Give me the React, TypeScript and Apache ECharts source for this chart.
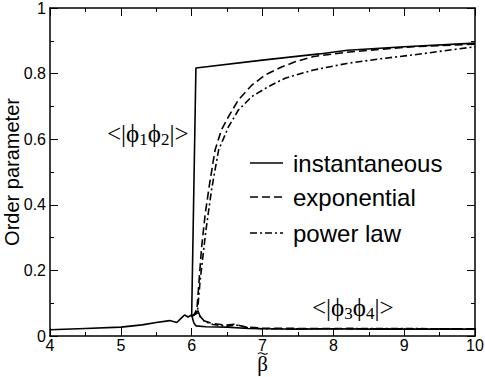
import React, { useEffect, useRef } from "react";
import * as echarts from "echarts";

// Shared pre-transition branch (beta, value)
const lowShared: [number, number][] = [
  [4.0, 0.019], [4.5, 0.023], [5.0, 0.027], [5.3, 0.034], [5.5, 0.041],
  [5.69, 0.047], [5.79, 0.041], [5.86, 0.056], [5.9, 0.064], [5.95, 0.058], [6.0, 0.064],
];

// instantaneous
const instUpper: [number, number][] = [
  [6.0, 0.064], [6.06, 0.817], [7.0, 0.841], [7.8, 0.86], [8.2, 0.871], [9.0, 0.882], [10.0, 0.893],
];
const instLower: [number, number][] = [
  [6.0, 0.064], [6.03, 0.04], [6.06, 0.031], [6.2, 0.028], [6.5, 0.027], [6.8, 0.023],
  [7.0, 0.022], [7.5, 0.021], [8.0, 0.022], [8.5, 0.021], [9.0, 0.021], [9.5, 0.021], [10.0, 0.021],
];

// exponential
const expUpper: [number, number][] = [
  [6.0, 0.06], [6.07, 0.07], [6.14, 0.27], [6.19, 0.37], [6.25, 0.46], [6.33, 0.567],
  [6.42, 0.628], [6.52, 0.669], [6.66, 0.72], [6.85, 0.765], [7.04, 0.796], [7.27, 0.82],
  [7.46, 0.836], [7.72, 0.852], [8.19, 0.865], [8.66, 0.874], [9.13, 0.882], [10.0, 0.89],
];
const expLower: [number, number][] = [
  [6.0, 0.06], [6.04, 0.065], [6.07, 0.084], [6.1, 0.07], [6.14, 0.049], [6.28, 0.039],
  [6.47, 0.033], [6.6, 0.036], [6.75, 0.028], [7.0, 0.024], [7.5, 0.023], [8.0, 0.023],
  [8.5, 0.022], [9.0, 0.022], [9.5, 0.022], [10.0, 0.022],
];

// power law
const powUpper: [number, number][] = [
  [6.0, 0.06], [6.08, 0.07], [6.12, 0.17], [6.2, 0.32], [6.28, 0.445], [6.38, 0.567],
  [6.52, 0.638], [6.66, 0.689], [6.85, 0.73], [7.08, 0.76], [7.32, 0.786], [7.46, 0.795],
  [7.72, 0.811], [8.19, 0.831], [8.66, 0.845], [9.13, 0.857], [10.0, 0.882],
];
const powLower: [number, number][] = [
  [6.0, 0.06], [6.05, 0.07], [6.08, 0.08], [6.12, 0.06], [6.18, 0.045], [6.3, 0.035],
  [6.5, 0.03], [6.62, 0.034], [6.8, 0.025], [7.0, 0.022], [7.5, 0.022], [8.0, 0.022],
  [8.5, 0.023], [9.0, 0.023], [9.5, 0.022], [10.0, 0.022],
];

const legendNames = ["instantaneous", "exponential", "power law"];
const yTicks = { min: 0, max: 1, interval: 0.2 };
const xTicks = { min: 4, max: 10, interval: 1 };

const SANS = "'Liberation Sans', Arial, sans-serif";
const SERIF = "'Liberation Serif', 'DejaVu Serif', serif";

const DASH = [8, 4];
const DASH_DOT = [7, 3, 2, 3];
const styles = [null, DASH, DASH_DOT];

export default function App() {
  const ref = useRef<HTMLDivElement>(null);
  useEffect(() => {
    if (!ref.current) return;
    const chart = echarts.init(ref.current, undefined, { renderer: "svg" });
    const axisCommon = {
      axisLine: { show: true, onZero: false, lineStyle: { color: "#000", width: 1.5 } },
      axisTick: { show: true, inside: true, length: 8, lineStyle: { color: "#000", width: 1 } },
      minorTick: { show: true, splitNumber: 2, length: 4, lineStyle: { color: "#000", width: 1 } },
      splitLine: { show: false },
      minorSplitLine: { show: false },
    };
    const lineSeries = (name: string, data: [number, number][], type: any) => ({
      name,
      type: "line",
      data,
      showSymbol: false,
      symbol: "none",
      lineStyle: { color: "#000", width: 1.6, type },
      itemStyle: { color: "#000" },
      z: 3,
    });

    const legendRowsY = [163, 197, 233];
    const legendGraphics: any[] = [];
    legendNames.forEach((n, i) => {
      legendGraphics.push({
        type: "line",
        shape: { x1: 250, y1: legendRowsY[i], x2: 283, y2: legendRowsY[i] },
        style: { stroke: "#000", lineWidth: 1.6, lineDash: styles[i] || undefined },
      });
      legendGraphics.push({
        type: "text",
        x: 293,
        y: legendRowsY[i],
        style: {
          text: n,
          font: `24px ${SANS}`,
          fill: "#000",
          verticalAlign: "middle",
        },
      });
    });

    const phiRich = {
      m: { fontFamily: SERIF, fontSize: 25, lineHeight: 28, verticalAlign: "middle", color: "#000", fill: "#000" },
      s: { fontFamily: SERIF, fontSize: 17, lineHeight: 28, verticalAlign: "bottom", color: "#000", fill: "#000" },
    };

    chart.setOption({
      animation: false,
      backgroundColor: "#fff",
      grid: { left: 50, right: 10, top: 8, bottom: 41, containLabel: false, outerBoundsMode: "none" },
      xAxis: [
        {
          type: "value",
          position: "bottom",
          ...xTicks,
          ...axisCommon,
          axisLabel: { color: "#000", fontFamily: SANS, fontSize: 16, lineHeight: 10, margin: 4 },
          name: "β",
          nameLocation: "middle",
          nameGap: 18,
          nameMoveOverlap: false,
          nameTextStyle: { color: "#000", fontFamily: SERIF, fontSize: 21, lineHeight: 20 },
        },
        {
          type: "value",
          position: "top",
          ...xTicks,
          ...axisCommon,
          axisLabel: { show: false },
        },
      ],
      yAxis: [
        {
          type: "value",
          position: "left",
          ...yTicks,
          ...axisCommon,
          axisLabel: { color: "#000", fontFamily: SANS, fontSize: 16, margin: 4 },
          name: "Order parameter",
          nameLocation: "middle",
          nameGap: 28,
          nameMoveOverlap: false,
          nameTextStyle: { color: "#000", fontFamily: SANS, fontSize: 20 },
        },
        {
          type: "value",
          position: "right",
          ...yTicks,
          ...axisCommon,
          axisLabel: { show: false },
        },
      ],
      series: [
        lineSeries(legendNames[0], lowShared, "solid"),
        lineSeries(legendNames[0], instUpper, "solid"),
        lineSeries(legendNames[0], instLower, "solid"),
        lineSeries(legendNames[1], expUpper, DASH),
        lineSeries(legendNames[1], expLower, DASH),
        lineSeries(legendNames[2], powUpper, DASH_DOT),
        lineSeries(legendNames[2], powLower, DASH_DOT),
      ],
      graphic: [
        ...legendGraphics,
        // tilde accent over the x-axis symbol
        {
          type: "bezierCurve",
          shape: { x1: 258, y1: 354, x2: 267.5, y2: 353, cpx1: 261, cpy1: 349.5, cpx2: 264.5, cpy2: 357.5 },
          style: { stroke: "#000", lineWidth: 1.1, fill: null },
        },
        {
          type: "text",
          left: 107,
          top: 121,
          style: {
            text: "{m|<|ϕ}{s|1}{m|ϕ}{s|2}{m||>}",
            font: `24px ${SERIF}`,
            fill: "#000",
            rich: phiRich,
          },
        },
        {
          type: "text",
          left: 312,
          top: 295,
          style: {
            text: "{m|<|ϕ}{s|3}{m|ϕ}{s|4}{m||>}",
            font: `24px ${SERIF}`,
            fill: "#000",
            rich: phiRich,
          },
        },
      ],
    });
    return () => chart.dispose();
  }, []);
  return (
    <div
      ref={ref}
      style={{ position: "fixed", left: 0, top: 0, width: 485, height: 377, background: "#fff" }}
    />
  );
}
